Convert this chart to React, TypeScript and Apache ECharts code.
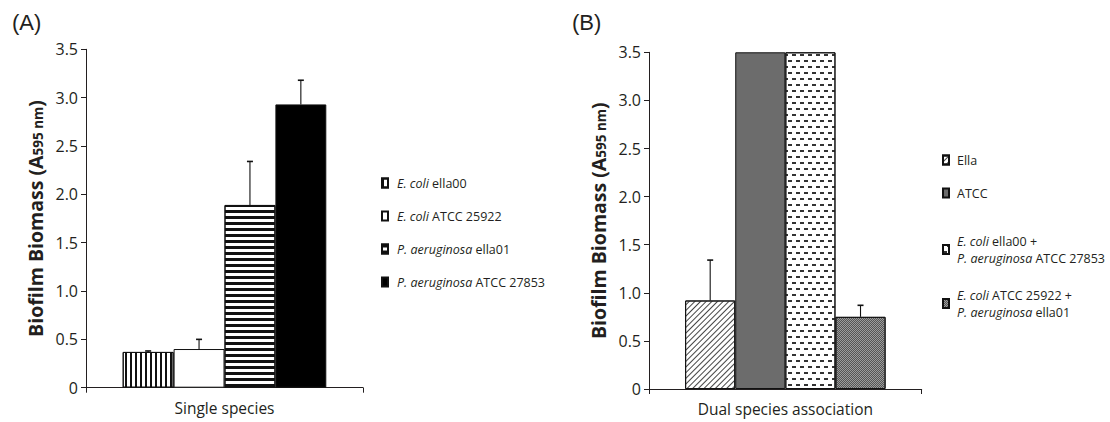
import React, { useEffect, useRef } from "react";
import * as echarts from "echarts";

// ---- data ----
const singleCategories = ["Single species"];
const dualCategories = ["Dual species association"];

const singleNames = [
  "E. coli ella00",
  "E. coli ATCC 25922",
  "P. aeruginosa ella01",
  "P. aeruginosa ATCC 27853",
];
const singleValues = [0.37, 0.4, 1.89, 2.93];
const singleErrors = [0.01, 0.1, 0.45, 0.25];

const dualNames = [
  "Ella",
  "ATCC",
  "E. coli ella00 + P. aeruginosa ATCC 27853",
  "E. coli ATCC 25922 + P. aeruginosa ella01",
];
const dualValues = [0.92, 3.5, 3.5, 0.75];
const dualErrors = [0.42, 0, 0, 0.12];

const legendLabels: Record<string, string> = {
  "E. coli ella00": "{i|E. coli} ella00",
  "E. coli ATCC 25922": "{i|E. coli} ATCC 25922",
  "P. aeruginosa ella01": "{i|P. aeruginosa} ella01",
  "P. aeruginosa ATCC 27853": "{i|P. aeruginosa} ATCC 27853",
  Ella: "Ella",
  ATCC: "ATCC",
  "E. coli ella00 + P. aeruginosa ATCC 27853":
    "{i|E. coli} ella00 +\n{i|P. aeruginosa} ATCC 27853",
  "E. coli ATCC 25922 + P. aeruginosa ella01":
    "{i|E. coli} ATCC 25922 +\n{i|P. aeruginosa} ella01",
};

const yMin = 0;
const yMax = 3.5;
const yInterval = 0.5;

// ---- styles ----
const FONT = "Open Sans";
const INK = "#231f20";
const GAP = 0.265;

const singleStyles: any[] = [
  {
    color: "#ffffff",
    decal: { symbol: "rect", color: "#111", dashArrayX: [1.3, 2.3], dashArrayY: [1, 0], symbolSize: 1 },
  },
  { color: "#ffffff" },
  {
    color: "#ffffff",
    decal: { symbol: "rect", color: "#111", dashArrayX: [1, 0], dashArrayY: [2.6, 2.9], symbolSize: 1 },
  },
  { color: "#000000" },
];

const dualStyles: any[] = [
  {
    color: "#ffffff",
    decal: { symbol: "rect", color: "#444", dashArrayX: [1, 2.6], dashArrayY: [1, 0], rotation: Math.PI / 4, symbolSize: 1 },
  },
  { color: "#6c6c6c" },
  {
    color: "#ffffff",
    decal: {
      symbol: "rect",
      color: "#333",
      dashArrayX: [[3.5, 3.5], [0, 3.5, 3.5, 0]],
      dashArrayY: [1.6, 4],
      symbolSize: 1,
    },
  },
  {
    color: "#9c9c9c",
    decal: {
      symbol: "rect",
      color: "#555",
      dashArrayX: [[1, 1], [0, 1, 1, 0]],
      dashArrayY: [1, 0],
      symbolSize: 1,
    },
  },
];

function barSeries(names: string[], values: number[], styles: any[], axis: number) {
  return names.map((name, i) => ({
    type: "bar",
    name,
    xAxisIndex: axis,
    yAxisIndex: axis,
    data: [values[i]],
    barGap: "0%",
    barCategoryGap: GAP * 100 + "%",
    itemStyle: { ...styles[i], borderColor: "#111", borderWidth: 1 },
    emphasis: { disabled: true },
  }));
}

function errorSeries(values: number[], errors: number[], axis: number) {
  const n = values.length;
  const data = values
    .map((v, i) => [0, v, errors[i], i])
    .filter((d) => d[2] > 0);
  return {
    type: "custom",
    xAxisIndex: axis,
    yAxisIndex: axis,
    z: 5,
    silent: true,
    data,
    encode: { x: 0, y: 1 },
    renderItem: (params: any, api: any) => {
      const cat = api.value(0);
      const v = api.value(1);
      const e = api.value(2);
      const idx = api.value(3);
      const band = api.size([1, 0])[0];
      const total = band * (1 - GAP);
      const bw = total / n;
      const c = api.coord([cat, v]);
      const top = api.coord([cat, v + e]);
      const x = c[0] - total / 2 + (idx + 0.5) * bw;
      const st = { stroke: "#111", lineWidth: 1.1 };
      return {
        type: "group",
        children: [
          { type: "line", shape: { x1: x, y1: c[1], x2: x, y2: top[1] }, style: st },
          { type: "line", shape: { x1: x - 3, y1: top[1], x2: x + 3, y2: top[1] }, style: { stroke: "#111", lineWidth: 1.6 } },
        ],
      };
    },
  };
}

function xAxis(data: string[], grid: number) {
  return {
    type: "category",
    gridIndex: grid,
    data,
    axisLine: { lineStyle: { color: INK, width: 1 } },
    axisTick: { show: true, length: 5, lineStyle: { color: INK } },
    axisLabel: { fontSize: 15.5, fontFamily: FONT, color: INK, margin: 12 },
  };
}

function yAxis(grid: number) {
  return {
    type: "value",
    gridIndex: grid,
    min: yMin,
    max: yMax,
    interval: yInterval,
    splitLine: { show: false },
    axisLine: { show: true, lineStyle: { color: INK, width: 1 } },
    axisTick: { show: true, length: 5, lineStyle: { color: INK } },
    axisLabel: {
      fontSize: 16,
      fontFamily: FONT,
      color: INK,
      margin: 8,
      formatter: (v: number) => (v === 0 ? "0" : v.toFixed(1)),
    },
    name: "{b|Biofilm Biomass (A}{s|595 nm}{b|)}",
    nameLocation: "middle",
    nameGap: 41,
    nameTextStyle: {
      rich: {
        b: { fontSize: 19.5, fontWeight: "bold", fontFamily: FONT, color: INK, lineHeight: 24, verticalAlign: "bottom" },
        s: { fontSize: 13.5, fontWeight: "bold", fontFamily: FONT, color: INK, lineHeight: 15, verticalAlign: "bottom" },
      },
    },
  };
}

function legendItem(name: string, left: number, top: number, padLeft: number) {
  return {
    data: [{ name, icon: "rect" }],
    left,
    top,
    padding: 0,
    orient: "vertical",
    itemWidth: 6,
    itemHeight: 9,
    selectedMode: false,
    formatter: (n: string) => legendLabels[n] || n,
    textStyle: {
      fontFamily: FONT,
      fontSize: 12.5,
      color: INK,
      lineHeight: 17,
      padding: [0, 0, 0, padLeft],
      rich: {
        i: { fontFamily: FONT, fontSize: 12.5, fontStyle: "italic", color: INK, lineHeight: 17 },
      },
    },
  };
}

const legendATops = [183, 216, 249, 282];
const legendBTops = [160, 193, 249.5, 303.5];

export default function App() {
  const ref = useRef<HTMLDivElement>(null);
  useEffect(() => {
    if (!ref.current) return;
    const chart = echarts.init(ref.current, undefined, { renderer: "svg" });
    const legends = [
      ...singleNames.map((n, i) => legendItem(n, 381, legendATops[i] - 8.5, 4)),
      ...dualNames.map((n, i) =>
        legendItem(n, 942, legendBTops[i] - (i >= 2 ? 17 : 8.5), 3)
      ),
    ];
    chart.setOption({
      animation: false,
      backgroundColor: "#ffffff",
      textStyle: { fontFamily: FONT },
      title: [
        { text: "(A)", left: 12, top: 11, padding: 0, textStyle: { fontSize: 22, fontWeight: "normal", fontFamily: "Liberation Sans", color: INK } },
        { text: "(B)", left: 572, top: 11, padding: 0, textStyle: { fontSize: 22, fontWeight: "normal", fontFamily: "Liberation Sans", color: INK } },
      ],
      legend: legends,
      grid: [
        { left: 86, top: 49.3, width: 277, height: 338.4 },
        { left: 649, top: 52.3, width: 272.7, height: 336.7 },
      ],
      xAxis: [xAxis(singleCategories, 0), xAxis(dualCategories, 1)],
      yAxis: [yAxis(0), yAxis(1)],
      series: [
        ...barSeries(singleNames, singleValues, singleStyles, 0),
        ...barSeries(dualNames, dualValues, dualStyles, 1),
        errorSeries(singleValues, singleErrors, 0),
        errorSeries(dualValues, dualErrors, 1),
      ],
    });
    return () => chart.dispose();
  }, []);
  return (
    <div
      ref={ref}
      style={{ position: "absolute", left: 0, top: 0, width: 1110, height: 422 }}
    />
  );
}
